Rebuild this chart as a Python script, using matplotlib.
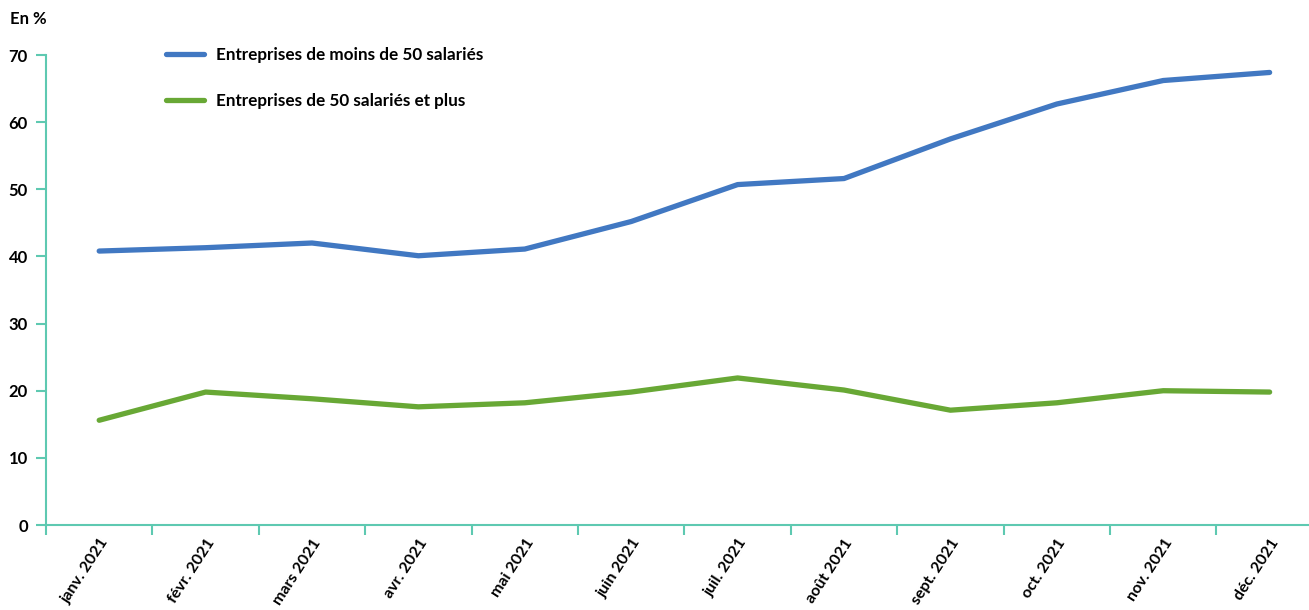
import matplotlib.pyplot as plt

# mois de l'année 2021
mois = ['janv. 2021', 'févr. 2021', 'mars 2021', 'avr. 2021', 'mai 2021', 'juin 2021',
        'juil. 2021', 'août 2021', 'sept. 2021', 'oct. 2021', 'nov. 2021', 'déc. 2021']

# en %
moins_50 = [40.8, 41.3, 42.0, 40.1, 41.1, 45.2, 50.7, 51.6, 57.5, 62.7, 66.2, 67.4]
plus_50 = [15.6, 19.8, 18.8, 17.6, 18.2, 19.8, 21.9, 20.1, 17.1, 18.2, 20.0, 19.8]

plt.rcParams['font.family'] = ['Lato', 'DejaVu Sans']
plt.rcParams['font.weight'] = 'bold'

axe_col = '#5ec9b1'

fig = plt.figure(figsize=(13.09, 6.10), dpi=100)
ax = fig.add_axes([46/1309, 85/610, 1263/1309, 470/610])

x = list(range(len(mois)))
ax.plot(x, moins_50, color='#4178c2', lw=3.8, solid_capstyle='round', solid_joinstyle='round',
        label='Entreprises de moins de 50 salariés')
ax.plot(x, plus_50, color='#68a835', lw=3.8, solid_capstyle='round', solid_joinstyle='round',
        label='Entreprises de 50 salariés et plus')

ax.set_xlim(-0.5, 11.37)
ax.set_ylim(0, 70)
ax.set_yticks(range(0, 71, 10))

# ticks aux frontières des mois, étiquettes au centre
ax.set_xticks([i - 0.5 for i in x])
ax.set_xticklabels([])
ax.set_xticks(x, minor=True)
ax.set_xticklabels(mois, minor=True, rotation=57, ha='right', rotation_mode='anchor')
ax.tick_params(axis='x', which='minor', length=0, pad=8, labelsize=11.5)
ax.tick_params(axis='x', which='major', length=7, color=axe_col, width=1.5)
ax.tick_params(axis='y', length=7, color=axe_col, width=1.5, labelsize=12, pad=6)

for s in ['top', 'right']:
    ax.spines[s].set_visible(False)
for s in ['left', 'bottom']:
    ax.spines[s].set_color(axe_col)
    ax.spines[s].set_linewidth(1.5)

ax.legend(loc='upper left', bbox_to_anchor=(0.083, 1.05), frameon=False, fontsize=12.3,
          handlelength=2.2, labelspacing=1.75, handletextpad=0.7)

fig.text(10/1309, 1 - 19/610, 'En %', fontsize=12, fontweight='bold', va='center')

plt.savefig('out.png', dpi=100)
